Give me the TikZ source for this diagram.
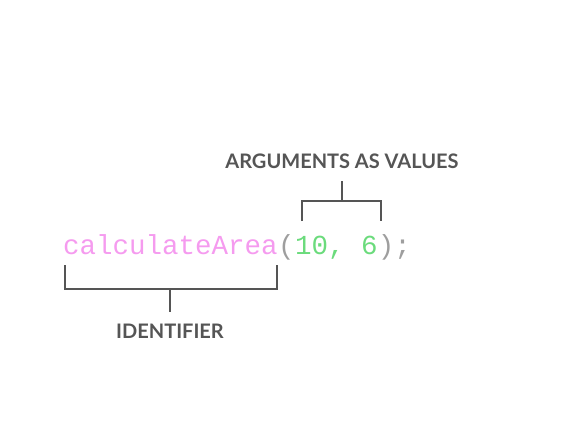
\documentclass[tikz,border=0pt]{standalone}
\usepackage{fontspec}
\newfontfamily\codefont{Liberation Mono}
\newfontfamily\labelfont{Lato}
\definecolor{fnpink}{HTML}{F59BEF}
\definecolor{arggreen}{HTML}{6BDB7C}
\definecolor{punctgray}{HTML}{9E9E9E}
\definecolor{bracketgray}{HTML}{555555}
\usetikzlibrary{positioning}
\tikzset{
  code/.style={inner sep=0pt, font=\codefont\fontsize{27.5}{30}\selectfont},
  tag/.style={inner sep=0pt, text=bracketgray, font=\labelfont\bfseries\fontsize{20}{22}\selectfont},
  brace/.style={draw=bracketgray, line width=1.5pt}
}
\begin{document}
\begin{tikzpicture}[x=1pt,y=-1pt]
\useasboundingbox (0,0) rectangle (583,420);

% the call itself
\node[code, text=fnpink, anchor=base west] (ident) at (63,254) {calculateArea};
\node[code, text=punctgray, anchor=base west] (open) at (ident.base east) {(};
\node[code, text=arggreen, anchor=base west] (args) at (open.base east) {10,\ 6};
\node[code, text=punctgray, anchor=base west] (close) at (args.base east) {);};

% labels
\node[tag] (argtag) at (342,161) {ARGUMENTS AS VALUES};
\node[tag] (idtag) at (170,331) {IDENTIFIER};

% bracket over the arguments
\coordinate (argl) at (302,221);
\coordinate (argr) at (381,221);
\coordinate (argm) at (342,201);
\coordinate (argtop) at (342,181);
\draw[brace] (argl) -- (302,201) -- (381,201) -- (argr);
\draw[brace] (argtop) -- (argm);

% bracket under the identifier
\coordinate (idl) at (65,265);
\coordinate (idr) at (277,265);
\coordinate (idm) at (170,289);
\coordinate (idbot) at (170,312);
\draw[brace] (idl) -- (65,289) -- (277,289) -- (idr);
\draw[brace] (idm) -- (idbot);
\end{tikzpicture}
\end{document}
